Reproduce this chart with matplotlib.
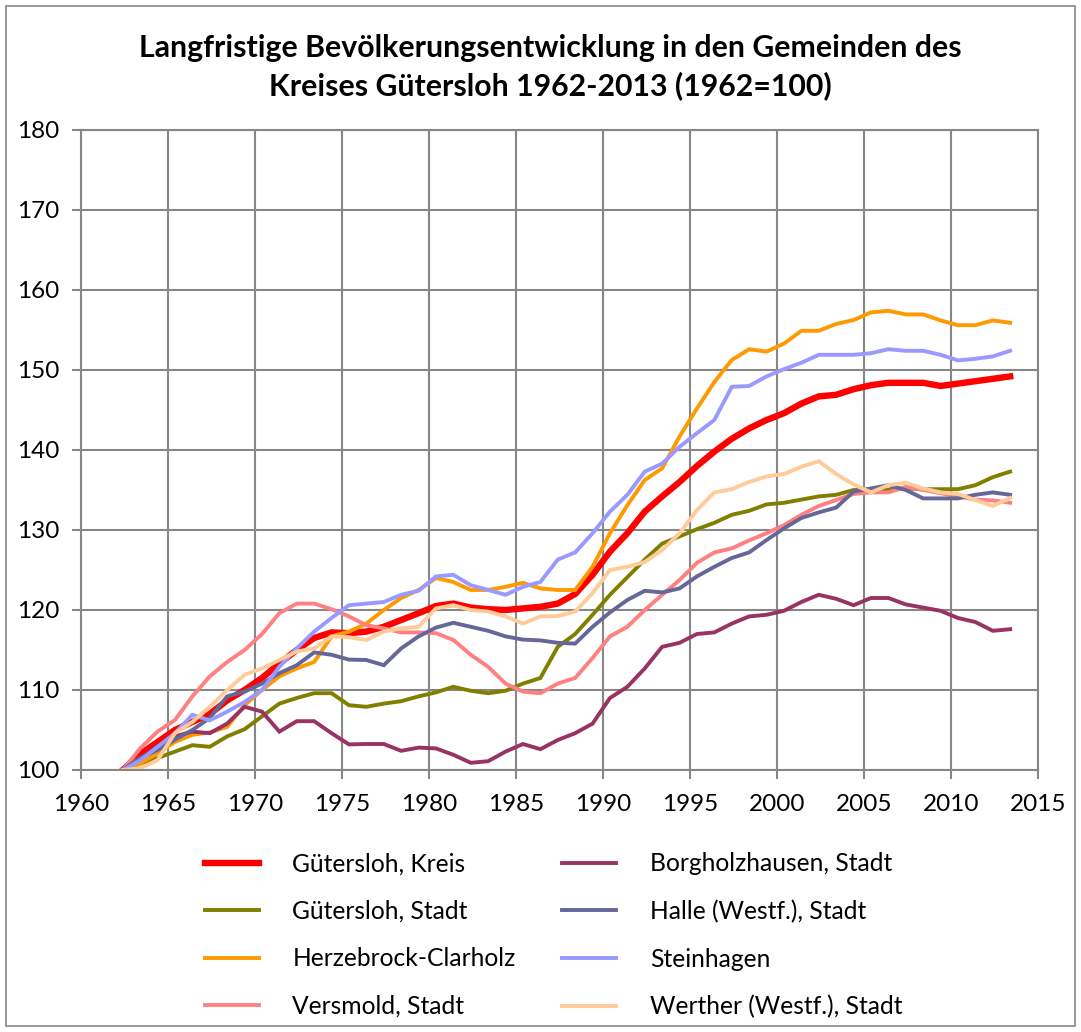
import numpy as np
import matplotlib.pyplot as plt
from matplotlib.patches import Rectangle

plt.rcParams['font.family'] = ['Lato', 'DejaVu Sans']

years = np.arange(1962, 2014)

kreis = [100, 102, 103.5, 105, 106, 107, 108.7, 110, 111.5, 113.3, 115, 116.5, 117.2, 117.1,
         117.3, 117.9, 118.75, 119.6, 120.5, 120.8, 120.3, 120.1, 120, 120.2, 120.4, 120.8, 122,
         124.4, 127.3, 129.6, 132.3, 134.2, 136, 138, 139.8, 141.4, 142.7, 143.75, 144.6, 145.8,
         146.7, 146.9, 147.6, 148.1, 148.4, 148.4, 148.4, 148, 148.3, 148.6, 148.9, 149.2]
gt_stadt = [100, 100.8, 101.5, 102.3, 103.1, 102.9, 104.2, 105.1, 106.7, 108.3, 109, 109.6, 109.6, 108.1,
            107.9, 108.3, 108.6, 109.2, 109.7, 110.4, 109.9, 109.6, 109.9, 110.8, 111.5, 115.4, 117,
            119.4, 121.9, 124.1, 126.3, 128.3, 129.2, 130.1, 130.9, 131.9, 132.4, 133.2, 133.4, 133.8,
            134.2, 134.4, 135, 135, 135, 135.2, 135.1, 135.1, 135.1, 135.6, 136.6, 137.3]
herzebrock = [100, 100.8, 102.1, 103.5, 104.4, 104.7, 105.4, 108.1, 110, 111.7, 112.7, 113.5, 116.7, 117.3,
              118.3, 120, 121.5, 122.5, 124, 123.5, 122.5, 122.5, 122.9, 123.4, 122.7, 122.5, 122.5,
              125.4, 129.6, 133.1, 136.25, 137.7, 141.7, 145.2, 148.5, 151.25, 152.6, 152.3, 153.3, 154.9,
              154.9, 155.75, 156.25, 157.2, 157.4, 156.95, 156.95, 156.2, 155.6, 155.6, 156.2, 155.9]
versmold = [100, 102.7, 104.8, 106.25, 109.2, 111.7, 113.5, 115, 117, 119.6, 120.8, 120.8, 120.1, 119.2,
            118.1, 117.7, 117.2, 117.2, 117.1, 116.25, 114.4, 112.9, 110.8, 109.8, 109.6, 110.8, 111.5,
            114, 116.7, 117.9, 120, 121.9, 123.75, 125.9, 127.2, 127.7, 128.7, 129.6, 130.6, 131.9,
            133, 133.75, 134.5, 134.7, 134.7, 135.4, 135, 134.6, 134.2, 133.8, 133.7, 133.4]
borgholz = [100, 101.5, 103, 104.2, 104.8, 104.6, 105.8, 107.9, 107.3, 104.8, 106.1, 106.1, 104.6, 103.2,
            103.25, 103.25, 102.4, 102.8, 102.7, 101.9, 100.9, 101.1, 102.3, 103.25, 102.6, 103.75, 104.6,
            105.8, 109, 110.4, 112.7, 115.4, 115.9, 117, 117.2, 118.3, 119.2, 119.4, 119.9, 121,
            121.9, 121.4, 120.6, 121.5, 121.5, 120.7, 120.3, 119.9, 119, 118.5, 117.4, 117.6]
halle = [100, 101.5, 102.5, 103.8, 105, 106.5, 109.2, 109.8, 110.8, 112.1, 113.1, 114.7, 114.4, 113.8,
         113.75, 113.1, 115.2, 116.7, 117.8, 118.4, 117.9, 117.4, 116.7, 116.3, 116.2, 115.9, 115.8,
         117.9, 119.7, 121.25, 122.4, 122.2, 122.7, 124.2, 125.4, 126.5, 127.2, 128.75, 130.2, 131.5,
         132.2, 132.8, 134.8, 135.2, 135.6, 135, 133.95, 133.95, 133.95, 134.4, 134.7, 134.4]
steinhagen = [100, 101.2, 102.9, 104.6, 106.9, 106.2, 107.3, 108.5, 110, 112.9, 115.2, 117.3, 119, 120.6,
              120.8, 121, 121.9, 122.4, 124.2, 124.4, 123.1, 122.5, 121.9, 122.9, 123.5, 126.3, 127.2,
              129.6, 132.3, 134.4, 137.3, 138.3, 140.4, 142.1, 143.75, 147.9, 148, 149.2, 150.1, 150.9,
              151.9, 151.9, 151.9, 152.1, 152.6, 152.4, 152.4, 151.9, 151.2, 151.4, 151.7, 152.4]
werther = [100, 100.2, 101.25, 104.6, 106, 107.9, 110, 111.9, 112.7, 113.75, 114.8, 115.2, 116.7, 116.6,
           116.25, 117.3, 117.7, 117.9, 120.2, 120.6, 120, 119.8, 119.2, 118.3, 119.2, 119.25, 119.8,
           122.1, 125, 125.4, 126, 127.5, 129.6, 132.5, 134.7, 135.1, 136, 136.7, 137, 137.9,
           138.6, 137, 135.7, 134.7, 135.6, 135.9, 135.2, 134.7, 134.5, 133.75, 133, 134]

labels = ['Gütersloh, Kreis', 'Gütersloh, Stadt', 'Herzebrock-Clarholz', 'Versmold, Stadt',
          'Borgholzhausen, Stadt', 'Halle (Westf.), Stadt', 'Steinhagen', 'Werther (Westf.), Stadt']
series = [kreis, gt_stadt, herzebrock, versmold, borgholz, halle, steinhagen, werther]
colors = ['#FF0000', '#808000', '#FF9900', '#FF8080', '#993366', '#666699', '#9999FF', '#FFCC99']
widths = [4.6, 2.8, 2.8, 2.8, 2.8, 2.8, 2.8, 2.8]

fig = plt.figure(figsize=(10.81, 10.32), dpi=100)
ax = fig.add_axes([81/1081, 1 - 770/1032, (1038-81)/1081, 640/1032])

grid_c = '#878787'
# points sit a bit past the year mark, like in the original sheet
for vals, lab, c, lw in zip(series, labels, colors, widths):
    ax.plot(years + 0.4, vals, color=c, lw=lw, label=lab, solid_joinstyle='miter')

ax.set_xlim(1960, 2015)
ax.set_ylim(100, 180)
ax.set_xticks(np.arange(1960, 2016, 5))
ax.set_yticks(np.arange(100, 181, 10))
ax.grid(True, color=grid_c, lw=1.5)
ax.set_axisbelow(True)
for s in ax.spines.values():
    s.set_color(grid_c)
    s.set_linewidth(1.5)
ax.tick_params(axis='both', direction='out', length=6.5, width=1.5, color=grid_c,
               labelsize=17.5)
ax.tick_params(axis='x', pad=11)
ax.tick_params(axis='y', pad=9)

fig.text(550/1081, 1 - 67/1032,
         'Langfristige Bevölkerungsentwicklung in den Gemeinden des\nKreises Gütersloh 1962-2013 (1962=100)',
         ha='center', va='center', fontsize=21.8, fontweight='bold', linespacing=1.38)

leg = fig.legend(loc='upper left', bbox_to_anchor=(183/1081, 1 - 830/1032), ncol=2,
                 frameon=False, fontsize=17.7, handlelength=2.2, handletextpad=1.35,
                 labelspacing=1.0, columnspacing=1.9)

fig.add_artist(Rectangle((6/1081, 6/1032), 1 - 12/1081, 1 - 12/1032, transform=fig.transFigure,
                         fill=False, edgecolor='#888888', lw=1.2))

fig.savefig('out.png', dpi=100)
